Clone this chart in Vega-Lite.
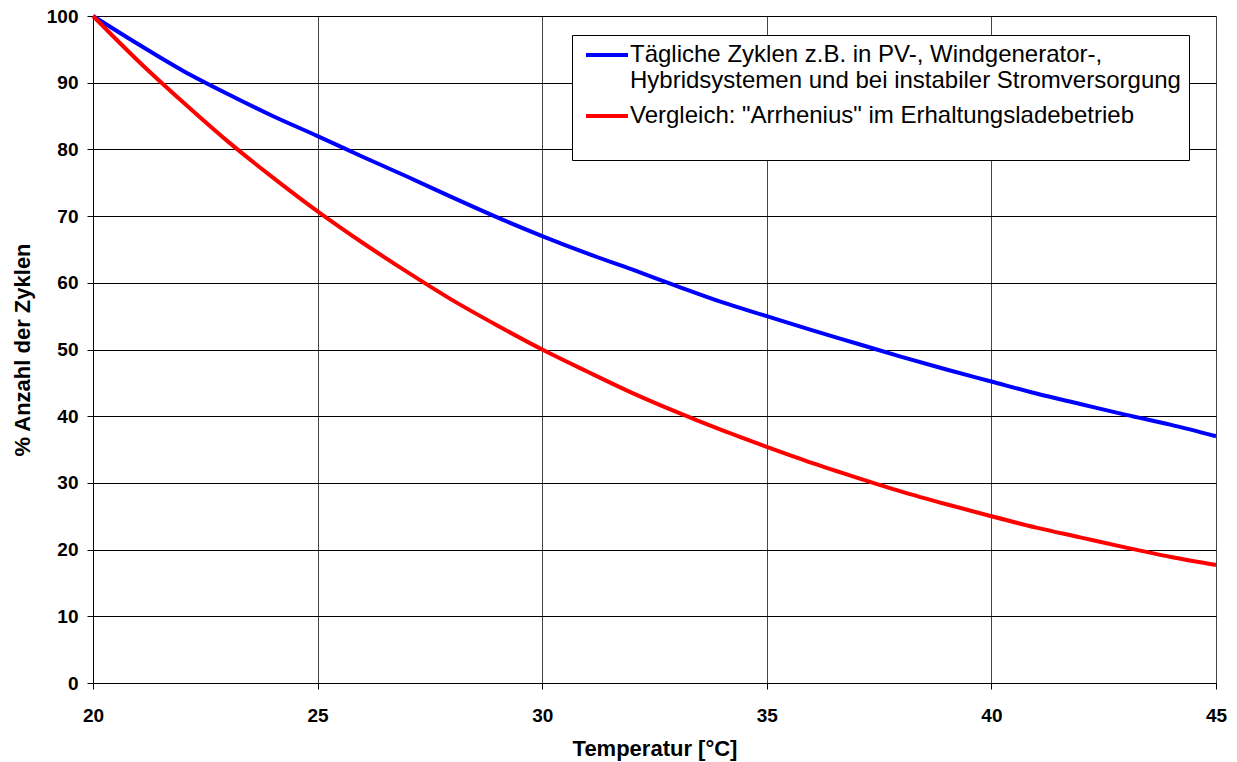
{
  "$schema": "https://vega.github.io/schema/vega-lite/v6.json",
  "autosize": {"type": "none"},
  "width": 1123,
  "height": 667,
  "padding": {"left": 93, "top": 16, "right": 21, "bottom": 79},
  "background": "white",
  "config": {
    "view": {"stroke": "#808080"},
    "font": "Liberation Sans"
  },
  "data": {
    "values": [
      {"t": 20, "s": "blue", "v": 100}, {"t": 21, "s": "blue", "v": 95.8}, {"t": 22, "s": "blue", "v": 91.8}, {"t": 23, "s": "blue", "v": 88.3}, {"t": 24, "s": "blue", "v": 85}, {"t": 25, "s": "blue", "v": 82}, {"t": 26, "s": "blue", "v": 78.9}, {"t": 27, "s": "blue", "v": 75.9}, {"t": 28, "s": "blue", "v": 72.8}, {"t": 29, "s": "blue", "v": 69.8}, {"t": 30, "s": "blue", "v": 67}, {"t": 31, "s": "blue", "v": 64.4}, {"t": 32, "s": "blue", "v": 62}, {"t": 33, "s": "blue", "v": 59.5}, {"t": 34, "s": "blue", "v": 57.1}, {"t": 35, "s": "blue", "v": 55}, {"t": 36, "s": "blue", "v": 52.9}, {"t": 37, "s": "blue", "v": 50.9}, {"t": 38, "s": "blue", "v": 48.9}, {"t": 39, "s": "blue", "v": 47}, {"t": 40, "s": "blue", "v": 45.2}, {"t": 41, "s": "blue", "v": 43.4}, {"t": 42, "s": "blue", "v": 41.8}, {"t": 43, "s": "blue", "v": 40.2}, {"t": 44, "s": "blue", "v": 38.7}, {"t": 45, "s": "blue", "v": 37},
      {"t": 20, "s": "red", "v": 100}, {"t": 21, "s": "red", "v": 93.3}, {"t": 22, "s": "red", "v": 87.1}, {"t": 23, "s": "red", "v": 81.2}, {"t": 24, "s": "red", "v": 75.8}, {"t": 25, "s": "red", "v": 70.7}, {"t": 26, "s": "red", "v": 66}, {"t": 27, "s": "red", "v": 61.6}, {"t": 28, "s": "red", "v": 57.4}, {"t": 29, "s": "red", "v": 53.6}, {"t": 30, "s": "red", "v": 50}, {"t": 31, "s": "red", "v": 46.7}, {"t": 32, "s": "red", "v": 43.5}, {"t": 33, "s": "red", "v": 40.6}, {"t": 34, "s": "red", "v": 37.9}, {"t": 35, "s": "red", "v": 35.4}, {"t": 36, "s": "red", "v": 33}, {"t": 37, "s": "red", "v": 30.8}, {"t": 38, "s": "red", "v": 28.7}, {"t": 39, "s": "red", "v": 26.8}, {"t": 40, "s": "red", "v": 25}, {"t": 41, "s": "red", "v": 23.3}, {"t": 42, "s": "red", "v": 21.8}, {"t": 43, "s": "red", "v": 20.3}, {"t": 44, "s": "red", "v": 18.9}, {"t": 45, "s": "red", "v": 17.7}
    ]
  },
  "mark": {"type": "line", "strokeWidth": 4, "interpolate": "monotone"},
  "encoding": {
    "x": {
      "field": "t", "type": "quantitative",
      "scale": {"domain": [20, 45], "nice": false, "zero": false},
      "axis": {
        "values": [20, 25, 30, 35, 40, 45],
        "title": "Temperatur [°C]",
        "titleFont": "Liberation Sans", "titleFontSize": 22, "titleFontWeight": "bold", "titleColor": "black", "titlePadding": 13,
        "labelFont": "Liberation Sans", "labelFontSize": 19, "labelFontWeight": "bold", "labelColor": "black", "labelPadding": 17,
        "labelFlush": false,
        "domainColor": "black", "tickColor": "black", "tickSize": 6,
        "grid": true, "gridColor": "#444444"
      }
    },
    "y": {
      "field": "v", "type": "quantitative",
      "scale": {"domain": [0, 100], "nice": false},
      "axis": {
        "values": [0, 10, 20, 30, 40, 50, 60, 70, 80, 90, 100],
        "title": "% Anzahl der Zyklen",
        "titleFont": "Liberation Sans", "titleFontSize": 22, "titleFontWeight": "bold", "titleColor": "black", "titlePadding": 12,
        "labelFont": "Liberation Sans", "labelFontSize": 19, "labelFontWeight": "bold", "labelColor": "black", "labelPadding": 9,
        "domainColor": "black", "tickColor": "black", "tickSize": 6,
        "grid": true, "gridColor": "black"
      }
    },
    "color": {
      "field": "s", "type": "nominal",
      "scale": {"domain": ["blue", "red"], "range": ["#0000ff", "#ff0000"]},
      "legend": {
        "title": " ",
        "titleOrient": "bottom", "titleFontSize": 20, "titlePadding": 4,
        "orient": "none", "legendX": 479, "legendY": 19,
        "padding": 8,
        "fillColor": "white", "strokeColor": "black", "cornerRadius": 0,
        "symbolType": "stroke", "symbolSize": 400, "symbolStrokeWidth": 4, "symbolOffset": 4,
        "labelFont": "Liberation Sans", "labelFontSize": 24, "labelColor": "black",
        "labelLimit": 900, "labelOffset": 0, "rowPadding": 11,
        "encode": {
          "symbols": {"update": {"size": {"value": 1764}, "y": {"value": 12}}},
          "labels": {"update": {"y": {"value": 12}}}
        },
        "labelExpr": "datum.value == 'blue' ? split('Tägliche Zyklen z.B. in PV-, Windgenerator-,|Hybridsystemen und bei instabiler Stromversorgung', '|') : 'Vergleich: \"Arrhenius\" im Erhaltungsladebetrieb'"
      }
    }
  }
}
